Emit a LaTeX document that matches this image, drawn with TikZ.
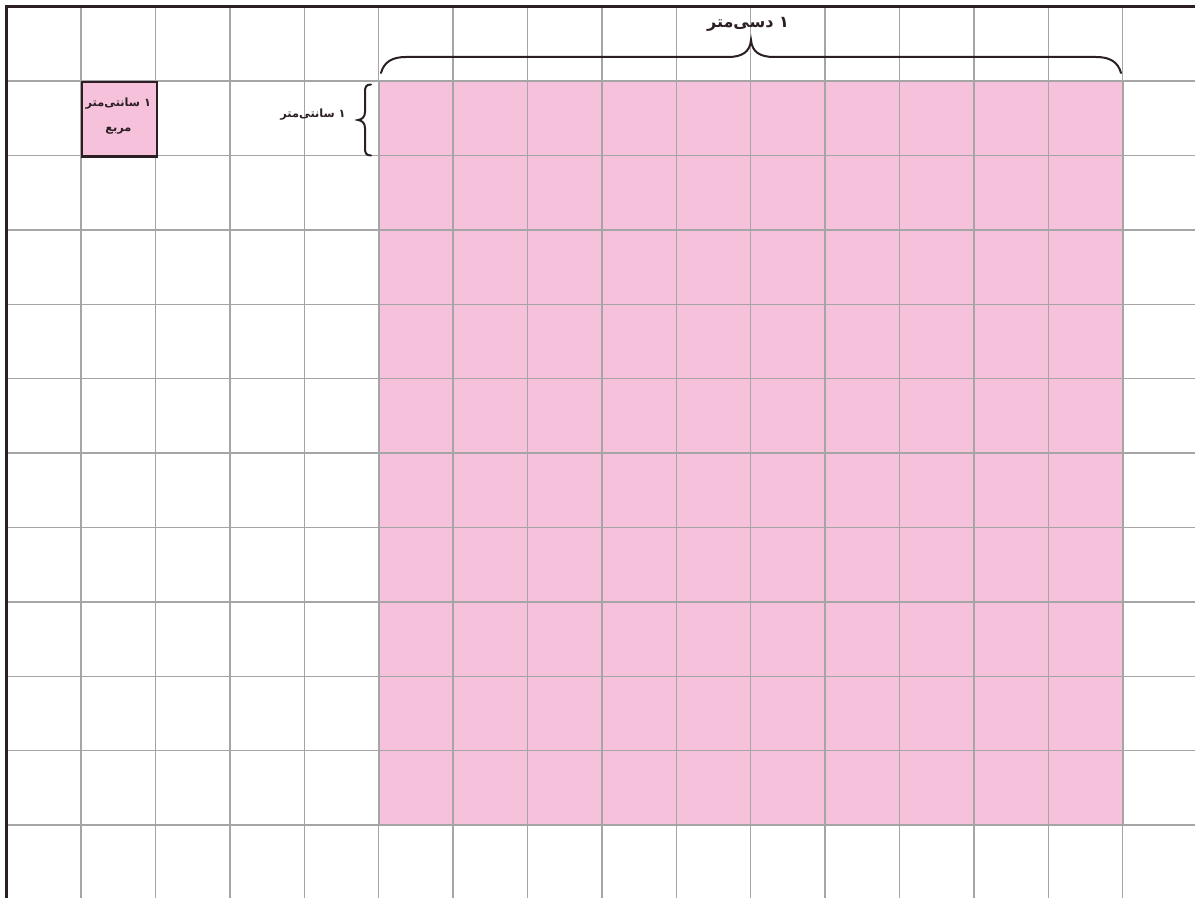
\documentclass[tikz,border=0pt]{standalone}
\usepackage{fontspec}
\newfontfamily\arabicfont[Script=Arabic]{DejaVu Sans}
\TeXXeTstate=1
\definecolor{pinkfill}{HTML}{F6C1DA}
\definecolor{gridgray}{HTML}{A5A5A5}
\definecolor{darkline}{HTML}{2B1F24}
\begin{document}
\begin{tikzpicture}[x=0.75pt,y=-0.75pt,
  gridline/.style={draw=gridgray,line width=1.1pt},
  border/.style={draw=darkline,line width=1.9pt},
  bracepath/.style={draw=darkline,line width=1.5pt,line cap=round},
  lbl/.style={inner sep=0pt,text=darkline}]
\useasboundingbox (0,0) rectangle (1195,898);
\fill[white] (0,0) rectangle (1195,898);
% pink 10x10 region
\fill[pinkfill] (378.7,81.1) rectangle (1122.7,825.1);
% grid
\foreach \i in {1,...,15} \draw[gridline] ({6.7+\i*74.4},6.7) -- ({6.7+\i*74.4},898);
\foreach \j in {1,...,11} \draw[gridline] (6.7,{6.7+\j*74.4}) -- (1195,{6.7+\j*74.4});
\draw[draw=gridgray,line width=1.7pt] (378.7,81.1) rectangle (1122.7,825.1);
% outer borders
\draw[border] (6.7,898) -- (6.7,6.7) -- (1195,6.7);
% one square centimetre
\node[draw=darkline,line width=1.7pt,fill=pinkfill,minimum width=74.4*0.75pt,minimum height=74.4*0.75pt,inner sep=0pt,anchor=north west] (sq) at (81.1,81.1) {};
\node[lbl,font=\arabicfont\bfseries\fontsize{8.5}{10}\selectfont] (sqa) at (118.3,104) {\beginR ۱ سانتی^^^^200cمتر\endR};
\node[lbl,font=\arabicfont\bfseries\fontsize{8.5}{10}\selectfont] (sqb) at (118.3,131) {\beginR مربع\endR};
% top brace
\draw[bracepath] (381,73) .. controls (384,62) and (392,57) .. (406,57) -- (728,57) .. controls (742,57) and (750,52) .. (751,40) .. controls (752,52) and (760,57) .. (774,57) -- (1096,57) .. controls (1110,57) and (1118,62) .. (1121,73);
\node[lbl,font=\arabicfont\bfseries\fontsize{12}{14}\selectfont] (dm) at (748,24) {\beginR ۱ دسی^^^^200cمتر\endR};
% left brace
\draw[bracepath] (371,84.5) .. controls (366,84.5) and (365,87) .. (365,92) -- (365,112) .. controls (365,117) and (362,119.5) .. (358,120) .. controls (362,120.5) and (365,123) .. (365,128) -- (365,148) .. controls (365,153) and (366,155.5) .. (371,155.5);
\node[lbl,font=\arabicfont\bfseries\fontsize{8.5}{10}\selectfont] (cm) at (313,115) {\beginR ۱ سانتی^^^^200cمتر\endR};
\end{tikzpicture}
\end{document}
